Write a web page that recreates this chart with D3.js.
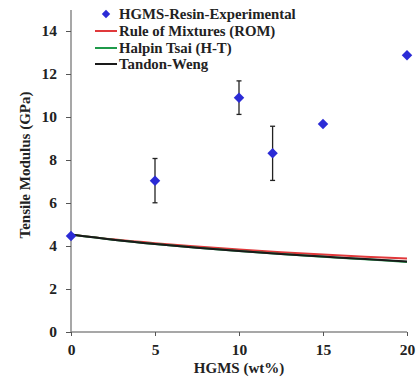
<!DOCTYPE html>
<html><head><meta charset="utf-8">
<script src="https://cdn.jsdelivr.net/npm/d3@7"></script>
<style>body{margin:0;background:#fff}svg{display:block}</style>
</head><body>
<script>
const expX = [0, 5, 10, 12, 15, 20];
const expY = [4.47, 7.04, 10.9, 8.31, 9.67, 12.87];
const expErr = [0, 1.03, 0.78, 1.26, 0, 0];
const modelX = [0, 2.5, 5, 7.5, 10, 12.5, 15, 17.5, 20];
const romY = [4.53, 4.31, 4.13, 3.98, 3.84, 3.71, 3.60, 3.50, 3.42];
const htY = [4.53, 4.29, 4.09, 3.92, 3.77, 3.63, 3.50, 3.38, 3.26];
const twY = [4.53, 4.29, 4.09, 3.92, 3.77, 3.63, 3.51, 3.39, 3.28];
const xTicks = [0, 5, 10, 15, 20];
const yTicks = [0, 2, 4, 6, 8, 10, 12, 14];
const legendLabels = ["HGMS-Resin-Experimental", "Rule of Mixtures (ROM)", "Halpin Tsai (H-T)", "Tandon-Weng"];

const W = 419, H = 382;
const svg = d3.select("body").append("svg").attr("width", W).attr("height", H);
const font = "'Liberation Serif','Times New Roman',serif";
const x = d3.scaleLinear().domain([0, 20]).range([71, 407]);
const y = d3.scaleLinear().domain([0, 14]).range([332, 31]);
const axisColor = "#8a8a8a";

// axes
const gx = svg.append("g").attr("transform", "translate(0,332)")
  .call(d3.axisBottom(x).tickValues(xTicks).tickSize(4).tickPadding(8));
const gy = svg.append("g").attr("transform", "translate(71,0)")
  .call(d3.axisLeft(y).tickValues(yTicks).tickSize(5).tickPadding(9));
[gx, gy].forEach(g => {
  g.select(".domain").attr("stroke", axisColor).attr("stroke-width", 1.5);
  g.selectAll(".tick line").attr("stroke", "#555");
  g.selectAll(".tick text").attr("font-family", font).attr("font-weight", "bold")
    .attr("font-size", 15.5).attr("fill", "#222");
});
gy.select(".domain").attr("d", "M0,332V10");
gx.select(".domain").attr("d", "M71,0H407");

// titles
svg.append("text").attr("x", 239).attr("y", 373).attr("text-anchor", "middle")
  .attr("font-family", font).attr("font-weight", "bold").attr("font-size", 15).attr("fill", "#222")
  .text("HGMS (wt%)");
svg.append("text").attr("transform", "translate(30,165) rotate(-90)").attr("text-anchor", "middle")
  .attr("font-family", font).attr("font-weight", "bold").attr("font-size", 15).attr("fill", "#222")
  .text("Tensile Modulus (GPa)");

// model lines
const line = d3.line().x(d => x(d[0])).y(d => y(d[1])).curve(d3.curveMonotoneX);
const series = [
  {vals: romY, color: "#e0393b"},
  {vals: htY, color: "#1f9a4a"},
  {vals: twY, color: "#1a1a1a"}
];
series.forEach(s => {
  svg.append("path").datum(modelX.map((v, i) => [v, s.vals[i]]))
    .attr("d", line).attr("fill", "none").attr("stroke", s.color).attr("stroke-width", 2);
});

// error bars
expX.forEach((v, i) => {
  if (!expErr[i]) return;
  const cx = x(v), t = y(expY[i] + expErr[i]), b = y(expY[i] - expErr[i]);
  svg.append("line").attr("x1", cx).attr("x2", cx).attr("y1", t).attr("y2", b).attr("stroke", "#222").attr("stroke-width", 1.3);
  [t, b].forEach(yy => svg.append("line").attr("x1", cx - 2.5).attr("x2", cx + 2.5).attr("y1", yy).attr("y2", yy).attr("stroke", "#222").attr("stroke-width", 1.3));
});

// diamonds
const diamond = d3.symbol().type(d3.symbolDiamond2).size(70);
svg.selectAll(".pt").data(expX.map((v, i) => [v, expY[i]])).join("path")
  .attr("transform", d => `translate(${x(d[0])},${y(d[1])})`)
  .attr("d", diamond).attr("fill", "#2b2bd6");

// legend
const lg = svg.append("g");
const rowY = [14, 31, 48, 64];
legendLabels.forEach((lab, i) => {
  if (i === 0) {
    lg.append("path").attr("transform", `translate(106,${rowY[i]})`)
      .attr("d", d3.symbol().type(d3.symbolDiamond2).size(45)).attr("fill", "#2b2bd6");
  } else {
    lg.append("line").attr("x1", 95).attr("x2", 117).attr("y1", rowY[i]).attr("y2", rowY[i])
      .attr("stroke", series[i - 1].color).attr("stroke-width", 2);
  }
  lg.append("text").attr("x", 119).attr("y", rowY[i] + 5)
    .attr("font-family", font).attr("font-weight", "bold").attr("font-size", 14.8).attr("fill", "#222")
    .text(lab);
});
</script>
</body></html>
